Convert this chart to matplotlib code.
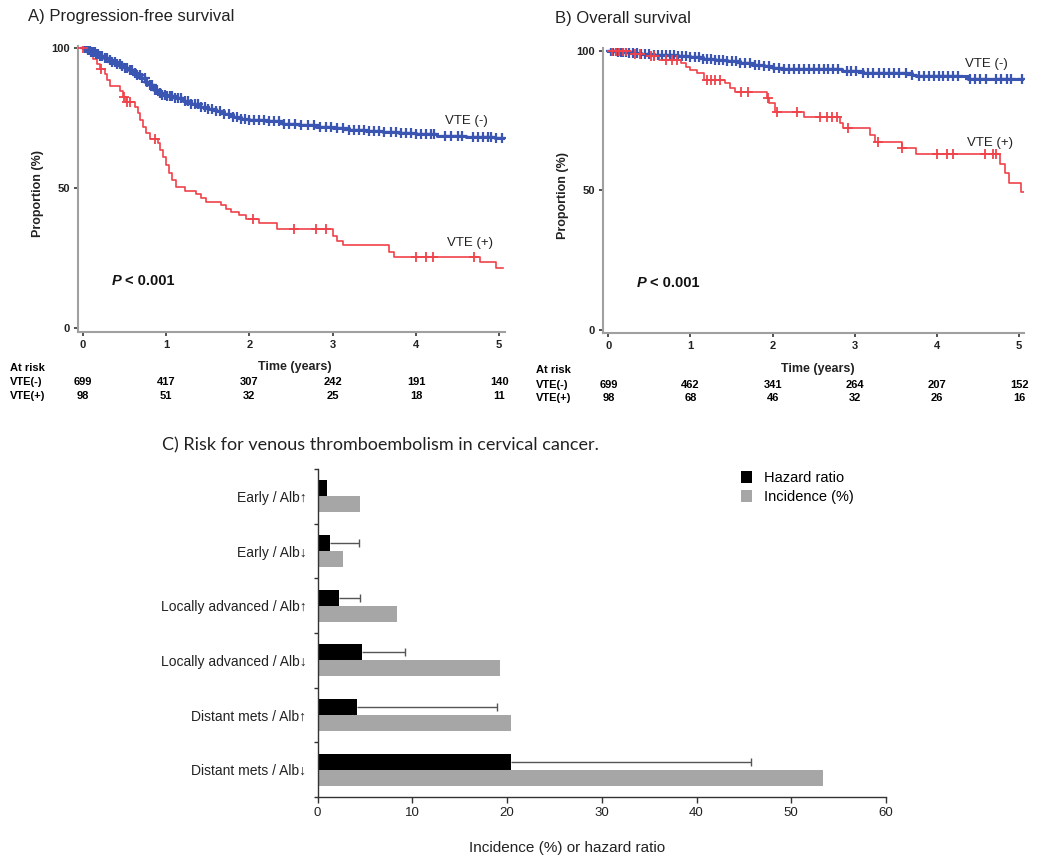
import numpy as np
import matplotlib
matplotlib.use("Agg")
import matplotlib.pyplot as plt
import matplotlib.transforms as mtrans
from matplotlib.patches import Patch

plt.rcParams['font.family'] = ['Liberation Sans', 'DejaVu Sans']

# ---------------- data ----------------
years = [0, 1, 2, 3, 4, 5]

# A) Progression-free survival
pfs_neg_t = [0, 0.05, 0.1, 0.15, 0.2, 0.25, 0.3, 0.35, 0.4, 0.45, 0.5, 0.55, 0.6, 0.65, 0.7,
             0.75, 0.8, 0.85, 0.9, 0.95, 1.0, 1.1, 1.2, 1.3, 1.4, 1.5, 1.6, 1.7, 1.8, 1.9,
             2.0, 2.2, 2.4, 2.6, 2.8, 3.0, 3.2, 3.4, 3.6, 3.8, 4.0, 4.2, 4.25, 4.6, 4.95, 5.05]
pfs_neg_s = [100, 99.3, 98.6, 98.0, 97.2, 96.4, 95.8, 95.0, 94.2, 93.4, 92.8, 92.0, 91.2, 90.3, 89.2,
             88.0, 86.6, 85.0, 83.8, 83.3, 82.8, 82.0, 81.0, 80.0, 79.0, 78.2, 77.4, 76.4, 75.4, 74.8,
             74.4, 73.8, 73.0, 72.4, 71.8, 71.4, 70.8, 70.4, 70.0, 69.7, 69.4, 69.1, 68.4, 68.2, 67.7, 67.7]
pfs_neg_cens = [0.02, 0.04, 0.06, 0.08, 0.1, 0.12, 0.14, 0.16, 0.18, 0.2, 0.23, 0.26, 0.29, 0.32, 0.35,
                0.38, 0.41, 0.44, 0.47, 0.5, 0.53, 0.56, 0.59, 0.62, 0.65, 0.68, 0.71, 0.74, 0.77, 0.8,
                0.83, 0.86, 0.89, 0.92, 0.95, 0.98, 1.01, 1.04, 1.07, 1.1, 1.14, 1.18, 1.22, 1.26, 1.3,
                1.34, 1.38, 1.42, 1.46, 1.5, 1.55, 1.6, 1.65, 1.7, 1.75, 1.8, 1.85, 1.9, 1.95, 2.0,
                2.06, 2.12, 2.18, 2.24, 2.3, 2.36, 2.42, 2.48, 2.55, 2.62, 2.7, 2.78, 2.85, 2.92, 2.98,
                3.05, 3.12, 3.2, 3.26, 3.32, 3.38, 3.44, 3.5, 3.56, 3.62, 3.7, 3.76, 3.82, 3.88, 3.94,
                4.0, 4.06, 4.12, 4.18, 4.22, 4.35, 4.42, 4.5, 4.55, 4.68, 4.75, 4.8, 4.86, 4.9, 4.96, 5.03]

pfs_pos_t = [0, 0.08, 0.12, 0.17, 0.21, 0.26, 0.29, 0.32, 0.44, 0.48, 0.52, 0.62, 0.66, 0.69, 0.72,
             0.76, 0.80, 0.90, 0.93, 0.96, 1.00, 1.03, 1.07, 1.12, 1.22, 1.36, 1.42, 1.48, 1.66, 1.72,
             1.78, 1.88, 1.96, 2.12, 2.33, 3.00, 3.05, 3.12, 3.68, 3.74, 4.77, 4.96, 5.05]
pfs_pos_s = [100, 97.8, 96.1, 94.2, 92.5, 90.6, 88.4, 86.3, 84.6, 82.4, 80.8, 78.9, 76.6, 74.3, 71.9,
             69.6, 67.5, 66.1, 63.5, 60.9, 58.2, 55.5, 52.8, 50.4, 48.8, 47.7, 46.5, 45.0, 43.9, 42.6,
             41.4, 40.2, 39.0, 37.6, 35.4, 32.8, 31.2, 29.5, 27.0, 25.5, 23.5, 21.5, 21.5]
pfs_pos_cens = [0.0, 0.22, 0.49, 0.53, 0.57, 0.86, 2.04, 2.53, 2.80, 2.92, 4.00, 4.12, 4.21, 4.70]

# B) Overall survival
os_neg_t = [0, 0.1, 0.25, 0.4, 0.55, 0.7, 0.85, 1.0, 1.15, 1.3, 1.45, 1.6, 1.75, 1.9, 2.0, 2.1,
            2.85, 3.1, 3.7, 3.75, 4.38, 5.05]
os_neg_s = [100, 99.5, 99.2, 98.9, 98.6, 98.3, 98.0, 97.6, 97.2, 96.8, 96.3, 95.6, 95.0, 94.4, 93.8,
            93.4, 92.6, 91.9, 91.4, 90.9, 89.7, 89.7]
os_neg_cens = [0.03, 0.06, 0.09, 0.12, 0.15, 0.18, 0.21, 0.25, 0.3, 0.35, 0.4, 0.45, 0.5, 0.55, 0.6,
               0.65, 0.7, 0.75, 0.8, 0.85, 0.9, 0.95, 1.0, 1.05, 1.1, 1.15, 1.2, 1.25, 1.3, 1.35,
               1.4, 1.45, 1.5, 1.55, 1.6, 1.66, 1.72, 1.78, 1.84, 1.9, 1.96, 2.02, 2.08, 2.14, 2.2,
               2.26, 2.32, 2.38, 2.44, 2.5, 2.56, 2.62, 2.68, 2.74, 2.8, 2.9, 2.96, 3.02, 3.1, 3.16,
               3.22, 3.3, 3.36, 3.42, 3.48, 3.54, 3.62, 3.7, 3.78, 3.84, 3.9, 3.96, 4.02, 4.08, 4.14,
               4.2, 4.26, 4.4, 4.46, 4.52, 4.6, 4.72, 4.78, 4.85, 4.9, 5.03]
os_pos_t = [0, 0.27, 0.47, 0.62, 0.88, 0.94, 1.0, 1.08, 1.16, 1.42, 1.48, 1.54, 1.93, 1.96, 2.03,
            2.38, 2.82, 2.86, 3.18, 3.25, 3.57, 3.75, 4.77, 4.83, 4.88, 5.02, 5.06]
os_pos_s = [100, 99.0, 98.0, 96.8, 95.5, 94.3, 93.1, 92.0, 89.6, 88.3, 86.8, 85.3, 83.0, 81.2, 78.2,
            76.3, 74.2, 72.2, 69.8, 67.4, 65.0, 62.9, 59.6, 56.1, 52.7, 49.5, 49.5]
os_pos_cens = [0.04, 0.09, 0.13, 0.18, 0.22, 0.33, 0.38, 0.52, 0.56, 0.70, 0.78, 0.84, 1.2, 1.25,
               1.3, 1.36, 1.62, 1.7, 1.94, 2.05, 2.3, 2.58, 2.66, 2.72, 2.78, 2.92, 3.28, 3.57,
               4.0, 4.12, 4.2, 4.58, 4.68, 4.72]

risk_pfs_neg = [699, 417, 307, 242, 191, 140]
risk_pfs_pos = [98, 51, 32, 25, 18, 11]
risk_os_neg = [699, 462, 341, 264, 207, 152]
risk_os_pos = [98, 68, 46, 32, 26, 16]

# C) Risk for VTE
categories = ["Early / Alb\u2191", "Early / Alb\u2193", "Locally advanced / Alb\u2191",
              "Locally advanced / Alb\u2193", "Distant mets / Alb\u2191", "Distant mets / Alb\u2193"]
hazard_ratio = [1.0, 1.3, 2.3, 4.7, 4.2, 20.4]
hr_upper = [np.nan, 4.4, 4.5, 9.2, 18.9, 45.7]
incidence = [4.5, 2.7, 8.4, 19.3, 20.4, 53.3]

# ---------------- figure ----------------
W, H = 1050, 865
fig = plt.figure(figsize=(W / 100, H / 100), dpi=100)


def px_axes(l, t, r, b):
    return fig.add_axes([l / W, 1 - b / H, (r - l) / W, (b - t) / H])


BLUE = '#3b55b3'
RED = '#f0424a'
SPINE = '#a0a0a0'


def km(ax, t, s, cens, color, lw, ms, mew):
    t = np.asarray(t)
    s = np.asarray(s)
    ax.step(t, s, where='post', color=color, lw=lw, zorder=3)
    c = np.asarray(cens)
    idx = np.searchsorted(t, c, side='right') - 1
    ax.plot(c, s[idx], ls='none', marker='+', ms=ms, mew=mew, color=color, zorder=4)


def style_km(ax, xlim, ylim):
    ax.set_xlim(*xlim)
    ax.set_ylim(*ylim)
    for sp in ['top', 'right']:
        ax.spines[sp].set_visible(False)
    for sp in ['left', 'bottom']:
        ax.spines[sp].set_color(SPINE)
        ax.spines[sp].set_linewidth(1.5)
    ax.set_xticks(years)
    ax.set_yticks([0, 50, 100])
    ax.tick_params(length=3, width=1.2, color='#333333', pad=3, labelsize=8, labelcolor='#222222')
    for lab in ax.get_xticklabels() + ax.get_yticklabels():
        lab.set_fontweight('bold')


def panel(ax, key, title_xy, title, neg, pos, risk_neg, risk_pos, lab_neg, lab_pos, ylab_xy, xlab_xy,
          risk_x, risk_y):
    style_km(ax, *lims[key])
    km(ax, *neg, BLUE, 2.2, 7, 1.6)
    km(ax, *pos, RED, 1.2, 7, 1.3)
    fig.text(title_xy[0] / W, 1 - title_xy[1] / H, title, fontsize=12, va='center', ha='left',
             color='#222222')
    ax.text(ylab_xy[0], ylab_xy[1], 'Proportion (%)', rotation=90, transform=ax.transAxes,
            ha='center', va='center', fontsize=9, fontweight='bold', color='#222222')
    ax.text(xlab_xy[0], xlab_xy[1], 'Time (years)', transform=ax.transAxes,
            ha='center', va='center', fontsize=9, fontweight='bold', color='#222222')
    ax.text(lab_neg[0], lab_neg[1], 'VTE (-)', fontsize=9.5, color='#222222', va='center')
    ax.text(lab_pos[0], lab_pos[1], 'VTE (+)', fontsize=9.5, color='#222222', va='center')
    ax.text(0.34, 16.8, 'P', fontsize=10.5, fontweight='bold', style='italic', va='center',
            color='#111111')
    ax.annotate('< 0.001', xy=(0.34, 16.8), xytext=(10, 0), textcoords='offset points',
                fontsize=10.5, fontweight='bold', va='center', color='#111111')
    tr = mtrans.blended_transform_factory(ax.transData, fig.transFigure)
    fig.text(risk_x / W, 1 - risk_y[0] / H, 'At risk', fontsize=8, fontweight='bold', va='center')
    fig.text(risk_x / W, 1 - risk_y[1] / H, 'VTE(-)', fontsize=8, fontweight='bold', va='center')
    fig.text(risk_x / W, 1 - risk_y[2] / H, 'VTE(+)', fontsize=8, fontweight='bold', va='center')
    for yr, a, b in zip(years, risk_neg, risk_pos):
        ax.text(yr, 1 - risk_y[1] / H, str(a), transform=tr, ha='center', va='center',
                fontsize=8, fontweight='bold', clip_on=False)
        ax.text(yr, 1 - risk_y[2] / H, str(b), transform=tr, ha='center', va='center',
                fontsize=8, fontweight='bold', clip_on=False)


lims = {'A': ((-0.06, 5.07), (-1.43, 100.7)), 'B': ((-0.065, 5.06), (-1.07, 100.97))}

axA = px_axes(78, 46, 505, 332)
panel(axA, 'A', (28, 16), 'A) Progression-free survival',
      (pfs_neg_t, pfs_neg_s, pfs_neg_cens), (pfs_pos_t, pfs_pos_s, pfs_pos_cens),
      risk_pfs_neg, risk_pfs_pos, (4.35, 73.9), (4.37, 30.4),
      (-0.094, 0.486), (0.508, -0.122), 10, (368, 382, 396))

axB = px_axes(603, 48, 1024, 333)
panel(axB, 'B', (555, 18), 'B) Overall survival',
      (os_neg_t, os_neg_s, os_neg_cens), (os_pos_t, os_pos_s, os_pos_cens),
      risk_os_neg, risk_os_pos, (4.34, 95.2), (4.37, 67.0),
      (-0.095, 0.484), (0.51, -0.126), 536, (370, 385, 398))

# ---------------- panel C ----------------
axC = px_axes(317.5, 469, 886, 797)
y = np.arange(len(categories))
off, bh = 0.145, 0.29
axC.barh(y - off, hazard_ratio, height=bh, color='black', zorder=2)
axC.barh(y + off, incidence, height=bh, color='#a6a6a6', zorder=2)
hr_arr = np.asarray(hazard_ratio)
up_arr = np.asarray(hr_upper)
m = ~np.isnan(up_arr)
axC.hlines((y - off)[m], hr_arr[m], up_arr[m], color='#555555', lw=1, zorder=1)
axC.plot(up_arr[m], (y - off)[m], ls='none', marker='|', ms=6, mew=1, color='#555555', zorder=1)
axC.set_xlim(0, 60)
axC.set_ylim(len(categories) - 0.5, -0.5)
axC.set_xticks(range(0, 61, 10))
axC.set_yticks(np.arange(-0.5, len(categories), 1.0))
axC.set_yticklabels([])
axC.set_yticks(y, minor=True)
axC.set_yticklabels(categories, minor=True)
axC.tick_params(axis='y', which='minor', length=0, pad=8, labelsize=10, labelcolor='#222222')
axC.tick_params(axis='y', which='major', length=3, width=1, color='#333333')
axC.tick_params(axis='x', length=4, width=1, color='#333333', labelsize=9.5, labelcolor='#222222',
                pad=3)
for sp in ['top', 'right']:
    axC.spines[sp].set_visible(False)
for sp in ['left', 'bottom']:
    axC.spines[sp].set_color('#333333')
    axC.spines[sp].set_linewidth(1)
axC.text(0.439, -0.155, 'Incidence (%) or hazard ratio', transform=axC.transAxes,
         ha='center', va='center', fontsize=11, color='#222222')
fig.text(162 / W, 1 - 445 / H, 'C) Risk for venous thromboembolism in cervical cancer.',
         fontsize=13, family=['Lato', 'DejaVu Sans'], va='center', ha='left', color='#222222')
handles = [Patch(facecolor='black'), Patch(facecolor='#a6a6a6')]
axC.legend(handles, ['Hazard ratio', 'Incidence (%)'], loc='upper left',
           bbox_to_anchor=(741 / W, 1 - 471 / H), bbox_transform=fig.transFigure,
           frameon=False, handlelength=0.75, handleheight=0.9, handletextpad=0.8,
           labelspacing=0.35, borderpad=0, borderaxespad=0, fontsize=10.5)

fig.savefig('out.png', dpi=100, facecolor='white')
